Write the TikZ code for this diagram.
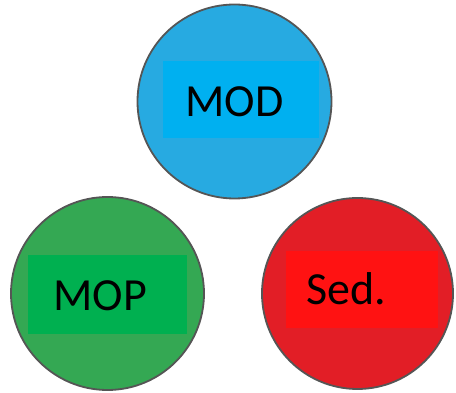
\documentclass[tikz,border=0pt]{standalone}
\usepackage{fontspec}
\setmainfont{Carlito}
\definecolor{bluec}{HTML}{27AAE1}
\definecolor{bluer}{HTML}{00B0F0}
\definecolor{greenc}{HTML}{34A853}
\definecolor{greenr}{HTML}{00B050}
\definecolor{redc}{HTML}{E21E26}
\definecolor{redr}{HTML}{FF1212}
\definecolor{rim}{HTML}{555555}
\begin{document}
\begin{tikzpicture}[x=1pt,y=1pt,
  ball/.style={circle,draw=rim,line width=1.8pt,minimum size=194pt,inner sep=0pt},
  plate/.style={rectangle,inner sep=0pt},
  lbl/.style={font=\fontsize{46}{50}\selectfont,text=black,inner sep=0pt}]
\useasboundingbox (0,0) rectangle (456,393);
% top blue
\node[ball,fill=bluec] (mod) at (234.5,291.5) {};
\node[plate,fill=bluer,minimum width=156pt,minimum height=77pt] (modr) at (241,293.5) {};
\node[lbl,anchor=base] (modt) at (234.5,276) {MOD};
% left green
\node[ball,fill=greenc,minimum size=193pt] (mop) at (107.5,99.5) {};
\node[plate,fill=greenr,minimum width=159pt,minimum height=79pt] (mopr) at (107.5,98.5) {};
\node[lbl,anchor=base] (mopt) at (100,82) {MOP};
% right red
\node[ball,fill=redc,minimum size=191pt] (sed) at (357.5,99.5) {};
\node[plate,fill=redr,minimum width=152pt,minimum height=77pt] (sedr) at (362,103.5) {};
\node[lbl,anchor=base] (sedt) at (346.5,88) {Sed.};
\end{tikzpicture}
\end{document}
